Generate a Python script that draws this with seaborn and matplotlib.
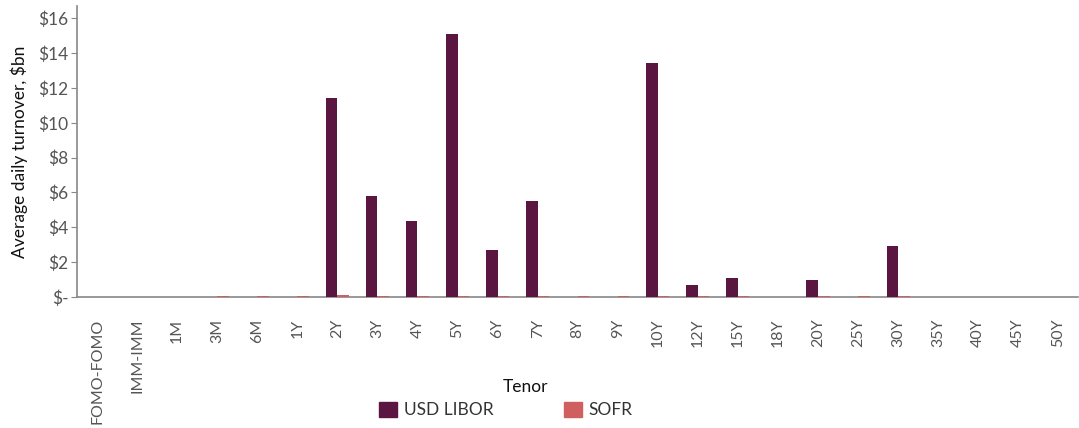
import pandas as pd
import numpy as np
import matplotlib
matplotlib.use("Agg")
import matplotlib.pyplot as plt
from matplotlib.ticker import FuncFormatter
import seaborn as sns

tenors = ["FOMO-FOMO", "IMM-IMM", "1M", "3M", "6M", "1Y", "2Y", "3Y", "4Y", "5Y",
          "6Y", "7Y", "8Y", "9Y", "10Y", "12Y", "15Y", "18Y", "20Y", "25Y",
          "30Y", "35Y", "40Y", "45Y", "50Y"]
usd_libor = [0, 0, 0, 0, 0, 0, 11.4, 5.8, 4.35, 15.1,
             2.7, 5.5, 0, 0, 13.45, 0.7, 1.1, 0, 0.95, 0,
             2.9, 0, 0, 0, 0]
sofr = [0, 0, 0, 0.06, 0.04, 0.04, 0.12, 0.05, 0.05, 0.05,
        0.05, 0.05, 0.04, 0.04, 0.05, 0.04, 0.04, 0, 0.04, 0.05,
        0.05, 0, 0, 0, 0]
series = ["USD LIBOR", "SOFR"]
colors = ["#5a1540", "#d06060"]

df = pd.DataFrame({
    "Tenor": tenors * 2,
    "value": usd_libor + sofr,
    "series": [series[0]] * len(tenors) + [series[1]] * len(tenors),
})

sns.set_style("white")
plt.rcParams["font.family"] = ["Lato", "DejaVu Sans"]

fig = plt.figure(figsize=(10.79, 4.28), dpi=100)
ax = fig.add_axes([0.0714, 0.306, 0.928, 0.680])

sns.barplot(data=df, x="Tenor", y="value", hue="series", order=tenors,
            hue_order=series, palette=colors, width=0.575, linewidth=0,
            saturation=1, ax=ax, legend=False)
# keep the tiny SOFR bars visible above the baseline
for p in ax.patches:
    p.set_zorder(3)

ax.set_xlim(-0.5, len(tenors) - 0.5)
ax.set_ylim(0, 16.7)
ax.set_yticks(np.arange(0, 17, 2))
ax.yaxis.set_major_formatter(FuncFormatter(lambda v, p: "$-" if v == 0 else f"${v:.0f}"))

for s in ["top", "right"]:
    ax.spines[s].set_visible(False)
for s in ["left", "bottom"]:
    ax.spines[s].set_color("#888888")
    ax.spines[s].set_linewidth(1.2)

ax.tick_params(axis="y", left=True, length=4, color="#888888", labelsize=12.5,
               labelcolor="#555555", pad=2)
ax.tick_params(axis="x", bottom=False, labelsize=11.5, labelcolor="#555555",
               rotation=90, pad=12)

ax.set_ylabel("Average daily turnover, $bn", fontsize=12.5, color="#111111")
ax.set_xlabel("Tenor", fontsize=12.5, color="#111111")
ax.yaxis.set_label_coords(-0.049, 0.5)
ax.xaxis.set_label_coords((525 - 77) / 1001, -0.28)

handles = [plt.Rectangle((0, 0), 1, 1, color=c) for c in colors]
fig.legend(handles, series, loc="center", bbox_to_anchor=(506 / 1079, 1 - 410 / 428),
           ncol=2, frameon=False, fontsize=12.5, columnspacing=4.1,
           handlelength=1.0, handleheight=1.0, handletextpad=0.4,
           labelcolor="#333333")

fig.savefig("out.png", dpi=100)
